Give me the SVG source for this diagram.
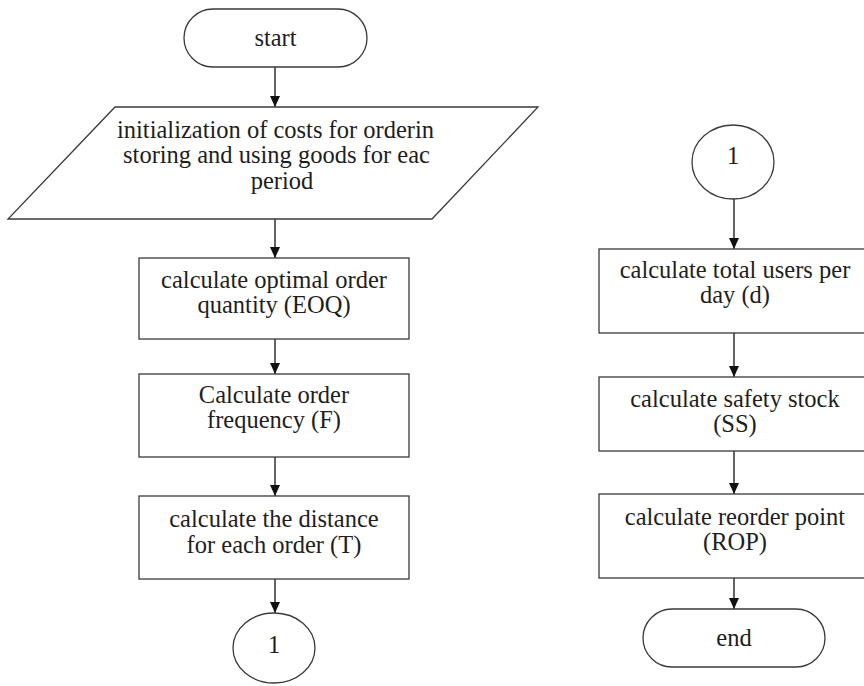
<svg xmlns="http://www.w3.org/2000/svg" width="864" height="686" viewBox="0 0 864 686">
<style>
.s{fill:#fff;stroke:#3a3a3a;stroke-width:1.3}
.t{font-family:"Liberation Serif","Times New Roman",serif;font-size:24.5px;fill:#1e1e1e;text-anchor:middle}
.c{stroke:#111;stroke-width:1.3;fill:none;marker-end:url(#ah)}
</style>
<defs>
<marker id="ah" markerUnits="userSpaceOnUse" markerWidth="12" markerHeight="14" refX="11" refY="6" orient="auto" viewBox="0 0 12 12">
<path d="M0,1 L11,6 L0,11 Z" fill="#111"/>
</marker>
</defs>
<rect width="864" height="686" fill="#fff"/>
<g id="connectors">
<line class="c" x1="275" y1="67" x2="275" y2="107"/>
<line class="c" x1="275" y1="219" x2="275" y2="258"/>
<line class="c" x1="275" y1="339" x2="275" y2="374"/>
<line class="c" x1="275" y1="457" x2="275" y2="496"/>
<line class="c" x1="275" y1="579" x2="275" y2="613"/>
<line class="c" x1="734" y1="199" x2="734" y2="249"/>
<line class="c" x1="734" y1="333" x2="734" y2="377"/>
<line class="c" x1="734" y1="451" x2="734" y2="494"/>
<line class="c" x1="734" y1="578" x2="734" y2="609"/>
</g>
<g id="start">
<rect class="s" x="184" y="9" width="183" height="58" rx="29"/>
<text class="t" x="275.5" y="46">start</text>
</g>
<g id="init">
<polygon class="s" points="115,107 538,107 432,219 8,219"/>
<text class="t" x="275.5" y="138">initialization of costs for orderin</text>
<text class="t" x="276.5" y="163">storing and using goods for eac</text>
<text class="t" x="282" y="189">period</text>
</g>
<g id="eoq">
<rect class="s" x="139" y="258" width="270" height="81"/>
<text class="t" x="274" y="288">calculate optimal order</text>
<text class="t" x="274" y="313">quantity (EOQ)</text>
</g>
<g id="freq">
<rect class="s" x="139" y="374" width="270" height="83"/>
<text class="t" x="274" y="403">Calculate order</text>
<text class="t" x="274" y="428">frequency (F)</text>
</g>
<g id="dist">
<rect class="s" x="139" y="496" width="270" height="83"/>
<text class="t" x="274" y="527">calculate the distance</text>
<text class="t" x="274" y="553">for each order (T)</text>
</g>
<g id="conn1a">
<ellipse class="s" cx="274" cy="648" rx="41" ry="35"/>
<text class="t" x="274" y="653">1</text>
</g>
<g id="conn1b">
<ellipse class="s" cx="733" cy="162" rx="41" ry="37"/>
<text class="t" x="733" y="164">1</text>
</g>
<g id="users">
<rect class="s" x="599" y="249" width="270" height="84"/>
<text class="t" x="735" y="278">calculate total users per</text>
<text class="t" x="735" y="303">day (d)</text>
</g>
<g id="ss">
<rect class="s" x="599" y="377" width="270" height="74"/>
<text class="t" x="735" y="407">calculate safety stock</text>
<text class="t" x="735" y="432">(SS)</text>
</g>
<g id="rop">
<rect class="s" x="599" y="494" width="270" height="84"/>
<text class="t" x="735" y="525">calculate reorder point</text>
<text class="t" x="735" y="550">(ROP)</text>
</g>
<g id="end">
<rect class="s" x="643" y="609" width="182" height="58" rx="29"/>
<text class="t" x="734" y="646">end</text>
</g>
</svg>
